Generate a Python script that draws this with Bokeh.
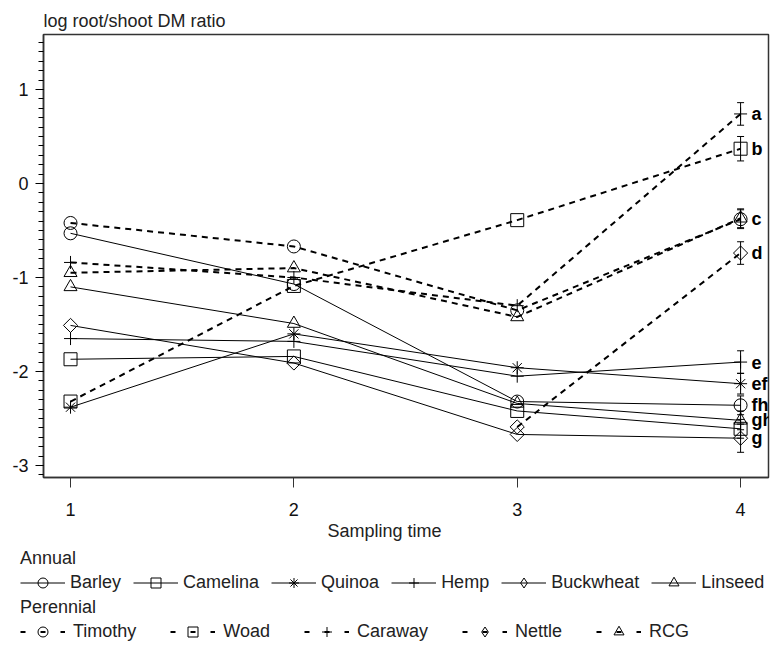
import math
from bokeh.plotting import figure
from bokeh.layouts import column, row
from bokeh.models import (Range1d, FixedTicker, Legend, LegendItem, Whisker,
                          ColumnDataSource, Title, TeeHead)
from bokeh.core.properties import value
from bokeh.embed import file_html
from bokeh.resources import INLINE

nan = float("nan")

# ---------------- data ----------------
times = [1, 2, 3, 4]

annual_names = ["Barley", "Camelina", "Quinoa", "Hemp", "Buckwheat", "Linseed"]
annual_markers = ["circle", "square", "asterisk", "cross", "diamond", "triangle"]
barley = [-0.53, -1.07, -2.32, -2.36]
camelina = [-1.87, -1.84, -2.42, -2.61]
quinoa = [-2.38, -1.60, -1.96, -2.13]
hemp = [-1.65, -1.68, -2.05, -1.90]
buckwheat = [-1.51, -1.91, -2.67, -2.71]
linseed = [-1.10, -1.49, -2.34, -2.52]
annual_values = [barley, camelina, quinoa, hemp, buckwheat, linseed]
annual_err_t4 = [0.10, 0.10, 0.11, 0.12, 0.15, 0.10]

perennial_names = ["Timothy", "Woad", "Caraway", "Nettle", "RCG"]
perennial_markers = ["circle", "square", "cross", "diamond", "triangle"]
timothy = [-0.42, -0.67, -1.35, -0.38]
woad = [-2.32, -1.09, -0.39, 0.37]
caraway = [-0.84, -1.00, -1.30, 0.74]
nettle = [nan, nan, -2.59, -0.74]
rcg = [-0.95, -0.90, -1.42, -0.37]
perennial_values = [timothy, woad, caraway, nettle, rcg]
perennial_err_t4 = [0.10, 0.13, 0.12, 0.12, 0.10]

letters = ["a", "b", "c", "d", "e", "ef", "fh", "gh", "g"]
letter_series = ["Caraway", "Woad", "Timothy", "Nettle", "Hemp", "Quinoa",
                 "Barley", "Linseed", "Buckwheat"]

y_ticks = [-3, -2, -1, 0, 1]
y_tick_labels = ["-3", "-2", "-1", "0", "1"]

# ---------------- main figure ----------------
TEXT_FONT = "Liberation Sans"
TICK_FONT = "Liberation Sans"

p = figure(width=781, height=545, output_backend="svg", toolbar_location=None,
           x_range=Range1d(0.879, 4.125), y_range=Range1d(-3.128, 1.585),
           min_border_left=43, min_border_right=13, min_border_top=34,
           min_border_bottom=68)
p.grid.visible = False
p.outline_line_color = "#333333"
p.outline_line_width = 1.5
p.background_fill_color = "white"
p.border_fill_color = "white"

p.title.text = "log root/shoot DM ratio"
p.title.text_font = TEXT_FONT
p.title.text_font_size = "18px"
p.title.text_font_style = "normal"
p.title.text_color = "#222222"
p.title.align = "left"
p.title.offset = 0
p.title.standoff = 8

xa = p.xaxis[0]
xa.ticker = FixedTicker(ticks=times)
xa.major_tick_out = 10
xa.major_tick_in = 0
xa.minor_tick_out = 0
xa.major_label_standoff = 15
xa.major_label_text_font = TICK_FONT
xa.major_label_text_font_size = "18px"
xa.major_label_text_color = "#111111"
xa.axis_line_color = "#333333"
xa.axis_line_width = 1.5
xa.major_tick_line_color = "#333333"

ya = p.yaxis[0]
ya.ticker = FixedTicker(ticks=y_ticks,
                        minor_ticks=[round(-3.1 + 0.1 * i, 1) for i in range(47)])
ya.major_label_overrides = {t: lab for t, lab in zip(y_ticks, y_tick_labels)}
ya.major_tick_out = 8
ya.major_tick_in = 0
ya.minor_tick_out = 5
ya.minor_tick_in = 0
ya.major_label_standoff = 7
ya.major_label_text_font = TICK_FONT
ya.major_label_text_font_size = "18px"
ya.major_label_text_color = "#111111"
ya.axis_line_color = "#333333"
ya.axis_line_width = 1.5

MS = 13


def add_markers(fig, src, mk, legend_only=False):
    if mk == "diamond" and not legend_only:
        return fig.scatter("x", "y", source=src, marker="square",
                           angle=math.pi / 4, size=10, fill_alpha=0,
                           line_color="black", line_width=1)
    return fig.scatter("x", "y", source=src, marker=mk, size=MS, fill_alpha=0,
                       line_color="black", line_width=1)


for mk, vals in zip(annual_markers, annual_values):
    src = ColumnDataSource(dict(x=times, y=vals))
    p.line("x", "y", source=src, line_color="black", line_width=1)
    add_markers(p, src, mk)

for mk, vals in zip(perennial_markers, perennial_values):
    src = ColumnDataSource(dict(x=times, y=vals))
    p.line("x", "y", source=src, line_color="black", line_width=2,
           line_dash="6 5")
    add_markers(p, src, mk)

# error bars at last sampling time
all_names = annual_names + perennial_names
all_values = annual_values + perennial_values
all_err = annual_err_t4 + perennial_err_t4
last = [v[-1] for v in all_values]
wsrc = ColumnDataSource(dict(
    x=[times[-1]] * len(all_names),
    lower=[v - e for v, e in zip(last, all_err)],
    upper=[v + e for v, e in zip(last, all_err)]))
p.add_layout(Whisker(source=wsrc, base="x", lower="lower", upper="upper",
                     dimension="height", line_color="black", line_width=1,
                     upper_head=TeeHead(size=7, line_color="black"),
                     lower_head=TeeHead(size=7, line_color="black")))

# significance letters
lookup = dict(zip(all_names, last))
p.text(x=[times[-1]] * len(letters), y=[lookup[s] for s in letter_series],
       text=letters, x_offset=11, text_baseline="middle", text_align="left",
       text_font=value(TEXT_FONT), text_font_style="bold",
       text_font_size="18px", text_color="black")

# x-axis title
p.add_layout(Title(text="Sampling time", align="left", offset=284, standoff=0,
                   text_font=TEXT_FONT, text_font_size="18px",
                   text_font_style="normal", text_color="#222222"), "below")

# ---------------- legend strip ----------------
lg = figure(width=781, height=100, output_backend="svg", toolbar_location=None,
            x_range=Range1d(0, 1), y_range=Range1d(0, 1),
            x_axis_location=None, y_axis_location=None, title=None,
            min_border_left=0, min_border_right=0, min_border_top=0,
            min_border_bottom=0)
lg.grid.visible = False
lg.outline_line_color = None
lg.border_fill_color = "white"
lg.background_fill_color = "white"


def legend_items(names, markers, dashed):
    items = []
    for name, mk in zip(names, markers):
        # legend-only renderers: a single undefined point, nothing visible
        src = ColumnDataSource(dict(x=[nan], y=[nan]))
        if dashed:
            ln = lg.line("x", "y", source=src, line_color="black", line_width=2,
                         line_dash="5 15")
        else:
            ln = lg.line("x", "y", source=src, line_color="black", line_width=1)
        sc = add_markers(lg, src, mk, legend_only=True)
        items.append(LegendItem(label=name, renderers=[ln, sc]))
    return items


def make_legend(title, items, loc, spacing, standoff):
    return Legend(items=items, title=title, orientation="horizontal",
                  location=loc, glyph_width=45, glyph_height=25,
                  label_standoff=standoff, spacing=spacing, padding=0, margin=0,
                  label_text_font=TEXT_FONT, label_text_font_size="18px",
                  label_text_color="#222222", label_height=25,
                  title_text_font=TEXT_FONT, title_text_font_size="18px",
                  title_text_font_style="normal", title_text_color="#222222",
                  title_standoff=1, border_line_color=None,
                  background_fill_alpha=0)


lg.add_layout(make_legend("Annual",
                          legend_items(annual_names, annual_markers, False),
                          (20, 50), 12, 5))
lg.add_layout(make_legend("Perennial",
                          legend_items(perennial_names, perennial_markers, True),
                          (20, 1), 34, 8))

layout = column(p, row(lg, spacing=0), spacing=0)
open("out.html", "w").write(file_html(layout, INLINE))
